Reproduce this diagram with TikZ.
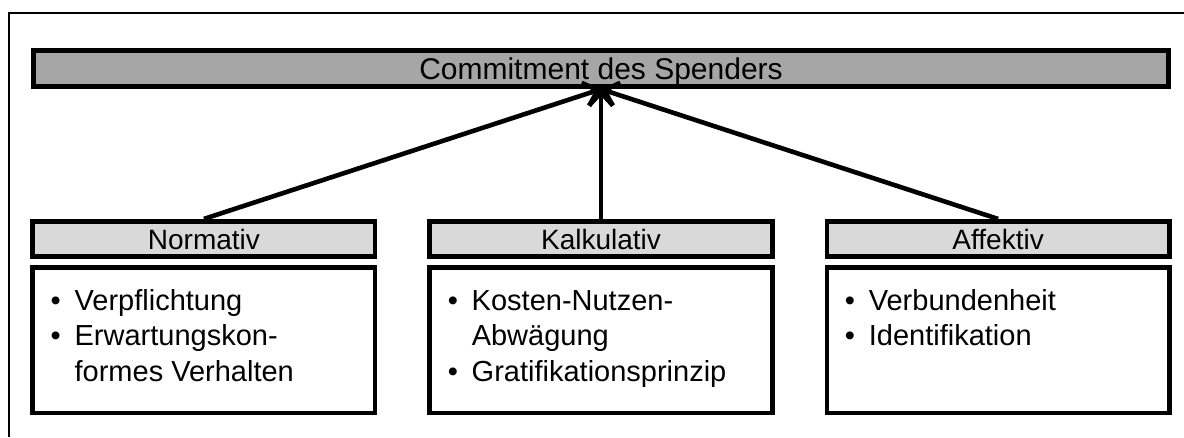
\documentclass[tikz,border=0pt]{standalone}
\usepackage{fontspec}
\setmainfont{Liberation Sans}
\usetikzlibrary{arrows.meta,positioning}
\definecolor{bargray}{HTML}{A6A6A6}
\definecolor{headgray}{HTML}{D9D9D9}
\tikzset{>={Straight Barb[length=13pt,width=24pt]}}
\tikzset{
  mainbar/.style={draw, line width=5pt, fill=bargray, minimum width=1135.5pt,
    minimum height=36.5pt, inner sep=0pt, text depth=0pt, font=\fontsize{30}{36}\selectfont},
  headbox/.style={draw, line width=4.6pt, fill=headgray, minimum width=342.5pt,
    minimum height=35.5pt, inner sep=0pt, font=\fontsize{28}{34}\selectfont},
  listbox/.style={draw, line width=4.6pt, fill=white, minimum width=342.5pt,
    minimum height=145.5pt, inner sep=0pt, below=6pt of #1, font=\fontsize{29}{35.5}\selectfont},
  link/.style={->, line width=4.6pt}
}
\newcommand{\listtext}[1]{\parbox[c][145.5pt][t]{342.5pt}{\rule{0pt}{43pt}#1}}
\newcommand{\bul}{\hspace*{18pt}\makebox[24pt][l]{\textbullet}}
\newcommand{\nobul}{\hspace*{42pt}}

\begin{document}
\begin{tikzpicture}[x=1pt, y=-1pt]
    \useasboundingbox (0,0) rectangle (1184,437);
    \draw[line width=2pt] (8.5,437) -- (8.5,12.7) -- (1184,12.7);
    % top bar
    \node[mainbar] (commit) at (601,68.4) {Commitment des Spenders};
    % the three kinds
    \node[headbox] (kalk) at (601,239) {Kalkulativ};
    \node[headbox, left=50pt of kalk] (norm) {Normativ};
    \node[headbox, right=50pt of kalk] (affe) {Affektiv};
    \node[listbox=norm] (normlist) {\listtext{\bul Verpflichtung\\
        \bul Erwartungskon-\\ \nobul formes Verhalten}};
    \node[listbox=kalk] (kalklist) {\listtext{\bul Kosten-Nutzen-\\
        \nobul Abwägung\\ \bul Gratifikationsprinzip}};
    \node[listbox=affe] (affelist) {\listtext{\bul Verbundenheit\\
        \bul Identifikation}};
    \draw[link] (norm.north) -- (commit.south);
    \draw[link] (kalk.north) -- (commit.south);
    \draw[link] (affe.north) -- (commit.south);
\end{tikzpicture}
\end{document}
